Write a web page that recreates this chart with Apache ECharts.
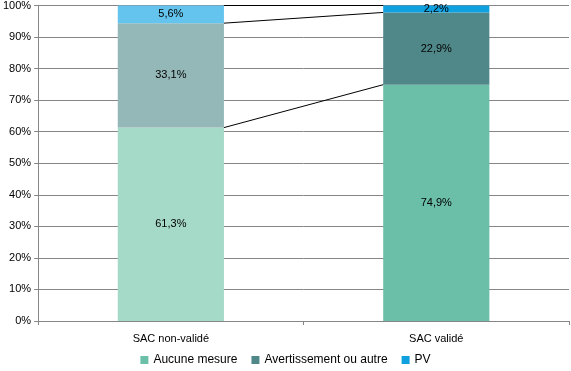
<!DOCTYPE html>
<html><head><meta charset="utf-8">
<script src="https://cdn.jsdelivr.net/npm/echarts@6/dist/echarts.min.js"></script>
<style>html,body{margin:0;padding:0;background:#fff}#c{width:571px;height:371px}</style>
</head><body><div id="c"></div>
<script>
var categories = ['SAC non-validé', 'SAC validé'];
var seriesNames = ['Aucune mesure', 'Avertissement ou autre', 'PV'];
var aucune = [61.3, 74.9];
var avertissement = [33.1, 22.9];
var pv = [5.6, 2.2];
var yTicks = [0, 10, 20, 30, 40, 50, 60, 70, 80, 90, 100];

var darkColors = ['#6bbfa8', '#50888a', '#0fa0e0'];
var lightColors = ['#a6dac8', '#94b8b8', '#64c4ee'];
var values = [aucune, avertissement, pv];

var fmt = function (v) { return v.toFixed(1).replace('.', ',') + '%'; };
var font = 'Liberation Sans';

var barSeries = values.map(function (arr, si) {
  return {
    name: seriesNames[si], type: 'bar', stack: 's', barWidth: '40%',
    itemStyle: { color: darkColors[si] },
    label: { show: true, position: 'inside', color: '#000', fontSize: 11, fontFamily: font,
      formatter: function (p) { return fmt(p.value); } },
    data: arr.map(function (v, i) {
      return { value: v, itemStyle: { color: i === 0 ? lightColors[si] : darkColors[si] } };
    }),
    z: 2
  };
});

// series lines between cumulative boundaries
var boundaries = [];
var cumL = 0, cumR = 0;
values.forEach(function (arr) {
  cumL += arr[0]; cumR += arr[1];
  boundaries.push([cumL, cumR]);
});

var lineSeries = {
  type: 'custom', silent: true, z: 5,
  data: boundaries,
  encode: { x: -1, y: -1 },
  renderItem: function (params, api) {
    var l = api.value(0), r = api.value(1);
    var p0 = api.coord([0, l]), p1 = api.coord([1, r]);
    var bw = api.size([1, 0])[0];
    var half = bw * 0.2;
    return { type: 'line', shape: { x1: p0[0] + half, y1: p0[1], x2: p1[0] - half, y2: p1[1] },
      style: { stroke: '#000', lineWidth: 1 } };
  }
};

var chart = echarts.init(document.getElementById('c'), null, { renderer: 'canvas' });
chart.setOption({
  animation: false,
  textStyle: { fontFamily: font },
  legend: {
    bottom: 0, left: 'center', itemWidth: 8, itemHeight: 8, itemGap: 14,
    icon: 'rect', textStyle: { fontSize: 12, color: '#000', fontFamily: font },
    data: seriesNames
  },
  grid: { left: 37, right: 2, top: 5, bottom: 50 },
  xAxis: {
    type: 'category', data: categories,
    axisLine: { lineStyle: { color: '#868686' } },
    axisTick: { show: true, interval: 0, length: 4, lineStyle: { color: '#868686' } },
    axisLabel: { color: '#000', fontSize: 11, margin: 12, fontFamily: font }
  },
  yAxis: {
    type: 'value', min: 0, max: 100, interval: 10,
    axisLine: { show: true, lineStyle: { color: '#868686' } },
    axisTick: { show: true, length: 4, lineStyle: { color: '#868686' } },
    splitLine: { lineStyle: { color: '#868686' } },
    axisLabel: { color: '#000', fontSize: 11, margin: 7, fontFamily: font,
      formatter: function (v) { return yTicks.indexOf(v) >= 0 ? v + '%' : ''; } }
  },
  series: barSeries.concat([lineSeries])
});
</script></body></html>
